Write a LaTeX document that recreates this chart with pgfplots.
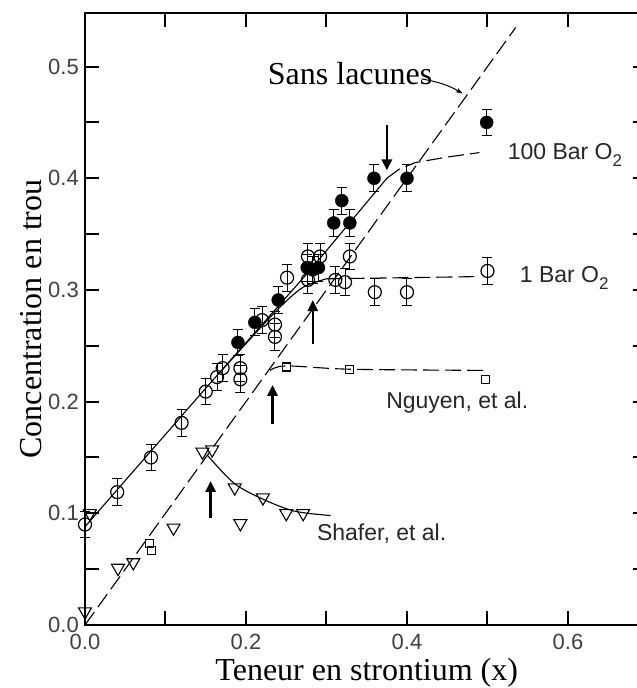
\documentclass[border=0pt]{standalone}
\usepackage{fontspec}
\setmainfont{Liberation Serif}
\newfontfamily\hel{Liberation Sans}
\usepackage{pgfplots}
\pgfplotsset{compat=1.18}
\usetikzlibrary{arrows.meta}

\begin{document}
\begin{tikzpicture}
\begin{axis}[
  scale only axis, width=563.5pt, height=612pt,
  xmin=0, xmax=0.7, ymin=0, ymax=0.548,
  xtick={0,0.2,0.4,0.6},
  xticklabels={0.0,0.2,0.4,0.6},
  ytick={0,0.1,0.2,0.3,0.4,0.5},
  yticklabels={0.0,0.1,0.2,0.3,0.4,0.5},
  major tick length=0pt, minor tick length=0pt,
  axis line style={line width=1.5pt},
  xticklabel style={font=\hel\fontsize{22}{22}\selectfont, text=black!75, inner sep=0pt, yshift=-9pt},
  yticklabel style={font=\hel\fontsize{22}{22}\selectfont, text=black!75, inner sep=0pt, xshift=-6pt},
  xlabel={Teneur en strontium (x)},
  ylabel={Concentration en trou},
  xlabel style={font=\fontsize{32}{32}\selectfont, inner sep=0pt, at={(axis description cs:0.5,0)}, anchor=base, yshift=-55pt},
  ylabel style={font=\fontsize{32}{32}\selectfont, inner sep=0pt, at={(axis description cs:-0.0775,0.5)}, anchor=base},
  clip=false,
]
% Sans lacunes line
\addplot[black, line width=1.1pt, dash pattern=on 16pt off 6pt] coordinates {(0,0) (0.535,0.535)};
% 100 Bar solid + dashed
\addplot[black, line width=1.1pt] coordinates {(0,0.088) (0.15,0.212) (0.28,0.318) (0.375,0.400)};
\addplot[black, line width=1.1pt, dash pattern=on 16pt off 6pt] coordinates {(0.375,0.400) (0.39,0.408) (0.41,0.414) (0.45,0.419) (0.49,0.423)};
% 1 Bar solid + dashed
\addplot[black, line width=1.1pt, smooth] coordinates {(0.17,0.228) (0.20,0.252) (0.24,0.283) (0.27,0.302) (0.30,0.310)};
\addplot[black, line width=1.1pt, dash pattern=on 16pt off 6pt] coordinates {(0.30,0.310) (0.40,0.311) (0.49,0.312)};
% Nguyen dashed
\addplot[black, line width=1.1pt, dash pattern=on 16pt off 6pt, smooth] coordinates {(0.23,0.228) (0.25,0.232) (0.33,0.229) (0.495,0.228)};
% Shafer solid curve
\addplot[black, line width=1.1pt, smooth] coordinates {(0.152,0.152) (0.185,0.127) (0.22,0.113) (0.26,0.102) (0.305,0.098)};

% 1 Bar O2 open circles
\addplot[only marks, mark=o, mark size=6.5pt, mark options={fill=white, line width=1.2pt, black},
  error bars/.cd, y dir=both, y fixed=0.012, error mark=-, error mark options={rotate=90, mark size=5pt, line width=1pt, black},
  error bar style={line width=1pt, black}] coordinates {
(0.000,0.090) (0.040,0.119) (0.082,0.150) (0.120,0.181) (0.150,0.209)
(0.164,0.222) (0.171,0.230) (0.193,0.230) (0.193,0.220) (0.220,0.273)
(0.236,0.269) (0.236,0.258) (0.251,0.311) (0.277,0.330) (0.292,0.330)
(0.277,0.309) (0.311,0.309) (0.323,0.307) (0.329,0.330) (0.360,0.298)
(0.400,0.298) (0.500,0.317)
};
% 100 Bar O2 filled circles
\addplot[only marks, mark=*, mark size=6.5pt, mark options={fill=black, black},
  error bars/.cd, y dir=both, y fixed=0.012, error mark=-, error mark options={rotate=90, mark size=5pt, line width=1pt, black},
  error bar style={line width=1pt, black}] coordinates {
(0.190,0.253) (0.211,0.271) (0.240,0.291) (0.276,0.320) (0.283,0.318)
(0.290,0.320) (0.309,0.360) (0.329,0.360) (0.319,0.380) (0.359,0.400)
(0.400,0.400) (0.499,0.450)
};
% Nguyen squares
\addplot[only marks, mark=square, mark size=4pt, mark options={fill=white, line width=1.1pt, black}] coordinates {
(0.080,0.073) (0.083,0.067) (0.250,0.231) (0.329,0.229) (0.497,0.220)
};
% Shafer triangles
\addplot[only marks, mark=triangle, mark size=7.5pt, mark options={rotate=180, fill=white, line width=1.1pt, black}] coordinates {
(0.000,0.012) (0.006,0.100) (0.041,0.051) (0.060,0.056) (0.110,0.087)
(0.146,0.155) (0.158,0.157) (0.186,0.123) (0.221,0.114) (0.250,0.100)
(0.271,0.100) (0.193,0.091)
};

% tick marks (inward, on all four sides), drawn last
\pgfplotsinvokeforeach{0.1,0.2,0.3,0.4,0.5,0.6}{
  \draw[black, line width=2pt] (axis cs:#1,0) -- (axis cs:#1,0.0125);
  \draw[black, line width=2pt] (axis cs:#1,0.548) -- (axis cs:#1,0.5355);
}
\pgfplotsinvokeforeach{0.05,0.1,0.15,0.2,0.25,0.3,0.35,0.4,0.45,0.5}{
  \draw[black, line width=2pt] (axis cs:0,#1) -- (axis cs:0.0175,#1);
  \draw[black, line width=2pt] (axis cs:0.7,#1) -- (axis cs:0.681,#1);
}

% arrows
\draw[line width=2.6pt, -{Triangle[length=11pt,width=10pt]}] (axis cs:0.375,0.448) -- (axis cs:0.375,0.407);
\draw[line width=2.6pt, -{Triangle[length=11pt,width=10pt]}] (axis cs:0.283,0.252) -- (axis cs:0.283,0.291);
\draw[line width=2.6pt, -{Triangle[length=11pt,width=10pt]}] (axis cs:0.233,0.180) -- (axis cs:0.233,0.215);
\draw[line width=2.6pt, -{Triangle[length=11pt,width=10pt]}] (axis cs:0.156,0.096) -- (axis cs:0.156,0.129);

% Sans lacunes label + leader
\node[anchor=base west, inner sep=0pt, font=\fontsize{32}{32}\selectfont] at (axis cs:0.227,0.484) {Sans lacunes};
\draw[line width=1pt, -{Stealth[length=7pt,width=5pt]}] (axis cs:0.418,0.489) to[out=-10, in=150] (axis cs:0.469,0.476);

% series labels
\node[anchor=base west, inner sep=0pt, text=black!85, font=\hel\fontsize{23}{23}\selectfont] at (axis cs:0.525,0.417) {100 Bar O\raisebox{-0.3em}{\fontsize{17}{17}\selectfont 2}};
\node[anchor=base west, inner sep=0pt, text=black!85, font=\hel\fontsize{23}{23}\selectfont] at (axis cs:0.540,0.307) {1 Bar O\raisebox{-0.3em}{\fontsize{17}{17}\selectfont 2}};
\node[anchor=base west, inner sep=0pt, text=black!85, font=\hel\fontsize{23}{23}\selectfont] at (axis cs:0.374,0.194) {Nguyen, et al.};
\node[anchor=base west, inner sep=0pt, text=black!85, font=\hel\fontsize{23}{23}\selectfont] at (axis cs:0.288,0.076) {Shafer, et al.};
\end{axis}
\pgfresetboundingbox
\path[use as bounding box] ([shift={(-85pt,-63pt)}]current axis.south west) rectangle ([shift={(552pt,13pt)}]current axis.north west);
\end{tikzpicture}
\end{document}
